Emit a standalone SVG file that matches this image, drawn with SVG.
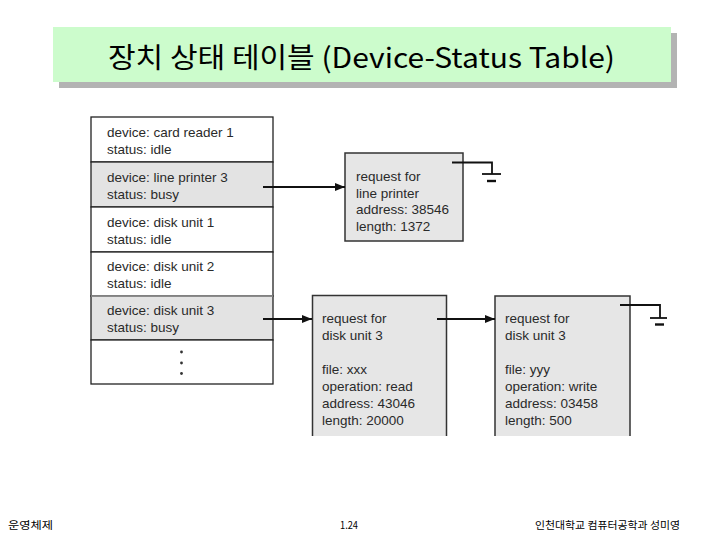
<svg xmlns="http://www.w3.org/2000/svg" width="720" height="540" viewBox="0 0 720 540">
<defs>
<marker id="ah" markerWidth="10" markerHeight="8" refX="10" refY="4" orient="auto" markerUnits="userSpaceOnUse">
<path d="M0,0 L10,4 L0,8 Z" fill="#111"/>
</marker>
<style>
.t{font-family:"Liberation Sans",Arial,sans-serif;font-size:13.5px;fill:#2a2a2a}
.row{stroke:#222;stroke-width:1.3}
.box{fill:#e6e6e6;stroke:#333;stroke-width:1.5}
.ln{fill:none;stroke:#111;stroke-width:1.8}
.ft{font-family:"Noto Sans CJK KR","Liberation Sans",sans-serif;font-size:10.5px;fill:#000}
</style>
</defs>
<rect width="720" height="540" fill="#fff"/>
<g id="title">
<rect x="59" y="33" width="618" height="55" fill="#b3b3b3"/>
<rect x="53" y="27" width="618" height="55" fill="#ccfccc"/>
<text x="108" y="68" textLength="507" lengthAdjust="spacingAndGlyphs" font-family="'Noto Sans CJK KR','Liberation Sans',sans-serif" font-size="28" font-weight="400" fill="#000">장치 상태 테이블 (Device-Status Table)</text>
</g>
<g id="device-table">
<rect x="91" y="117" width="182" height="45" fill="#fff" class="row"/>
<rect x="91" y="162" width="182" height="45" fill="#e3e3e3" class="row"/>
<rect x="91" y="207" width="182" height="45" fill="#fff" class="row"/>
<rect x="91" y="252" width="182" height="44" fill="#fff" class="row"/>
<rect x="91" y="296" width="182" height="44" fill="#e3e3e3" class="row"/>
<rect x="91" y="340" width="182" height="44" fill="#fff" class="row"/>
<line x1="91" y1="296" x2="273" y2="296" stroke="#999" stroke-width="1.3"/>
<text class="t" x="107" y="137">device: card reader 1</text>
<text class="t" x="107" y="154">status: idle</text>
<text class="t" x="107" y="182">device: line printer 3</text>
<text class="t" x="107" y="199">status: busy</text>
<text class="t" x="107" y="227">device: disk unit 1</text>
<text class="t" x="107" y="244">status: idle</text>
<text class="t" x="107" y="271">device: disk unit 2</text>
<text class="t" x="107" y="288">status: idle</text>
<text class="t" x="107" y="315">device: disk unit 3</text>
<text class="t" x="107" y="332">status: busy</text>
<circle cx="181.5" cy="352" r="1.4" fill="#333"/>
<circle cx="181.5" cy="363" r="1.4" fill="#333"/>
<circle cx="181.5" cy="373.5" r="1.4" fill="#333"/>
</g>
<g id="req-line-printer">
<rect x="345" y="153" width="118" height="88" class="box"/>
<text class="t" x="356" y="181">request for</text>
<text class="t" x="356" y="198">line printer</text>
<text class="t" x="356" y="214">address: 38546</text>
<text class="t" x="356" y="231">length: 1372</text>
</g>
<g id="req-disk-read">
<path d="M312.5,436 V295.5 H446.5 V436 Z" fill="#e6e6e6" stroke="none"/>
<path d="M312.5,436 V295.5 H446.5 V436" class="box" fill="none"/>
<text class="t" x="322" y="323">request for</text>
<text class="t" x="322" y="340">disk unit 3</text>
<text class="t" x="322" y="374">file: xxx</text>
<text class="t" x="322" y="391">operation: read</text>
<text class="t" x="322" y="408">address: 43046</text>
<text class="t" x="322" y="425">length: 20000</text>
</g>
<g id="req-disk-write">
<path d="M495,436 V296 H630 V436 Z" fill="#e6e6e6" stroke="none"/>
<path d="M495,436 V296 H630 V436" class="box" fill="none"/>
<text class="t" x="505" y="323">request for</text>
<text class="t" x="505" y="340">disk unit 3</text>
<text class="t" x="505" y="374">file: yyy</text>
<text class="t" x="505" y="391">operation: write</text>
<text class="t" x="505" y="408">address: 03458</text>
<text class="t" x="505" y="425">length: 500</text>
</g>
<g id="connectors">
<line x1="263" y1="187" x2="345" y2="187" class="ln" marker-end="url(#ah)"/>
<line x1="263" y1="319" x2="312" y2="319" class="ln" marker-end="url(#ah)"/>
<line x1="437" y1="319" x2="495" y2="319" class="ln" marker-end="url(#ah)"/>
<path d="M452,162.5 H492 V174" class="ln"/>
<line x1="482" y1="174" x2="501" y2="174" class="ln"/>
<line x1="487" y1="181" x2="496" y2="181" stroke="#111" stroke-width="2.4"/>
<path d="M620,305 H660 V318" class="ln"/>
<line x1="650" y1="318" x2="667" y2="318" class="ln"/>
<line x1="655" y1="324.5" x2="664" y2="324.5" stroke="#111" stroke-width="2.4"/>
</g>
<g id="footer">
<text class="ft" x="8" y="529" textLength="45" lengthAdjust="spacingAndGlyphs">운영체제</text>
<text class="ft" x="340" y="529" textLength="18" lengthAdjust="spacingAndGlyphs">1.24</text>
<text class="ft" x="535" y="529" textLength="145" lengthAdjust="spacingAndGlyphs">인천대학교 컴퓨터공학과 성미영</text>
</g>
</svg>
